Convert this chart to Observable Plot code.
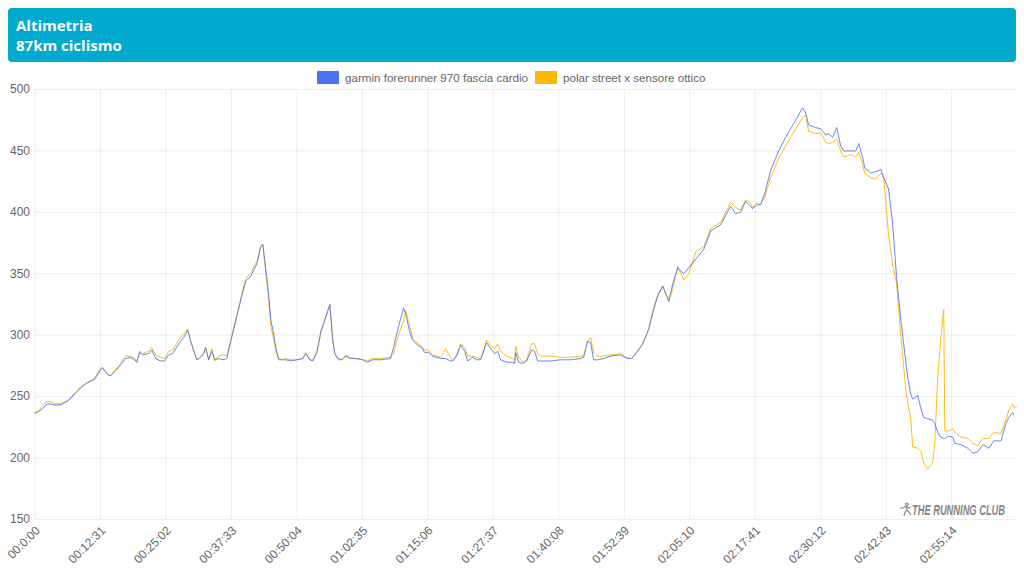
<!DOCTYPE html>
<html lang="it">
<head>
<meta charset="utf-8">
<script src="https://cdn.jsdelivr.net/npm/d3@7"></script>
<script src="https://cdn.jsdelivr.net/npm/@observablehq/plot@0.6"></script>
<style>
html,body{margin:0;padding:0;background:#fff;width:1024px;height:576px;overflow:hidden}
#page{position:relative;width:1024px;height:576px}
#head{position:absolute;left:8px;top:8px;width:1000px;height:54px;padding-left:8px;background:#00a9ce;border-radius:4px;color:#fff;font:700 15px/20px "Open Sans",sans-serif;display:flex;flex-direction:column;justify-content:center}
.key{position:absolute;top:71px;height:13px;display:flex;align-items:center;font:11.6px "Liberation Sans",sans-serif;color:#666;white-space:nowrap}
.key i{display:inline-block;width:22px;height:13px;margin-right:6px}
#chart{position:absolute;left:0;top:75px}
#mark{position:absolute;left:899px;top:497px;width:112px;height:24px}
</style>
</head>
<body>
<div id="page">
  <div id="head"><div>Altimetria</div><div>87km ciclismo</div></div>
  <div id="chart"></div>
  <div class="key" style="left:317px"><i style="background:#4d70f5"></i><span id="k0"></span></div>
  <div class="key" style="left:535px"><i style="background:#ffb700"></i><span id="k1"></span></div>
  <svg id="mark" viewBox="0 0 112 24"><path d="M8 6a1.2 1.2 0 1 0 .1 0M7 9 4 11l-3 0M7 9l1 4-2 2-1 4M8 13l2 2 2 3M7 9l3 2 2-1" fill="none" stroke="#8a8a8a" stroke-width="1.2"/><text id="markText" transform="translate(13 17.5) scale(1 1.45)" textLength="93" lengthAdjust="spacingAndGlyphs" font-family="Liberation Sans" font-weight="700" font-style="italic" font-size="10" fill="#858585">THE RUNNING CLUB</text></svg>
</div>
<script>
const seriesNames = ["garmin forerunner 970 fascia cardio", "polar street x sensore ottico"];
const seriesColors = ["#4d70f5", "#ffb700"];
const tickLabels = ["00:0:00","00:12:31","00:25:02","00:37:33","00:50:04","01:02:35","01:15:06","01:27:37","01:40:08","01:52:39","02:05:10","02:17:41","02:30:12","02:42:43","02:55:14"];
const tickSeconds = [0,751,1502,2253,3004,3755,4506,5257,6008,6759,7510,8261,9012,9763,10514];
const yTicks = [150,200,250,300,350,400,450,500];

const seconds = [
0,40,86,132,178,247,316,385,454,522,591,683,752,775,833,867,924,982,1039,1097,
1143,1166,1200,1234,1303,1338,1384,1441,1487,1533,1579,1648,1705,1751,1786,1832,1855,1900,1935,1958,
1992,2027,2061,2107,2153,2199,2245,2314,2383,2417,2475,2544,2590,2613,2636,2671,2705,2728,2762,2796,
2842,2877,2934,3003,3072,3106,3152,3187,3233,3279,3336,3382,3416,3439,3474,3520,3566,3612,3681,3761,
3803,3872,3964,4078,4112,4169,4227,4250,4296,4330,4388,4434,4468,4514,4560,4652,4709,4767,4790,4836,
4882,4928,4962,5019,5065,5111,5180,5226,5272,5306,5340,5409,5478,5501,5513,5547,5593,5639,5696,5730,
5764,5798,5913,6028,6143,6258,6292,6338,6373,6407,6453,6522,6602,6717,6786,6843,6901,6970,7039,7085,
7142,7200,7269,7315,7372,7441,7499,7579,7671,7751,7866,7977,8034,8092,8149,8207,8230,8276,8322,8368,
8437,8529,8609,8724,8804,8839,8873,8954,9011,9069,9103,9149,9195,9241,9276,9356,9413,9448,9494,9517,
9586,9643,9701,9735,9790,9836,9882,9928,9986,10009,10043,10066,10124,10158,10193,10239,10296,10319,10354,10388,
10423,10434,10480,10526,10549,10618,10698,10756,10813,10871,10940,10997,11078,11135,11169,11215,11227,11257
];
const garmin = [
237,238,240,244,244,243,244,247,252,257,261,264,272,273,268,267,271,276,281,282,
280,278,286,284,285,288,281,279,279,284,285,293,298,304,295,285,280,282,285,290,
280,287,280,281,280,281,295,315,335,344,348,358,372,374,360,340,312,305,290,280,
280,280,279,280,281,285,280,279,286,303,315,325,295,285,281,280,283,281,281,280,
278,280,280,281,290,307,322,318,303,296,292,290,286,286,283,281,281,279,279,283,
292,287,279,282,280,280,294,289,285,287,280,278,278,277,286,278,277,279,288,287,
279,279,279,280,280,281,282,295,294,280,280,281,283,284,281,281,286,293,305,318,
332,340,328,342,355,350,355,362,370,385,390,405,399,400,409,405,403,407,406,415,
434,450,461,475,485,481,471,469,468,463,464,461,469,454,450,450,450,456,444,436,
432,433,435,428,419,391,347,314,279,266,252,248,251,241,233,232,231,228,221,217,
216,216,218,217,212,211,208,204,205,211,208,214,214,228,233,237,235,null
];
const polar = [
236,238,243,246,246,244,245,247,253,258,261,265,273,274,268,267,272,277,283,283,
281,278,287,285,287,290,284,282,281,287,288,296,301,305,295,285,280,282,286,290,
280,289,279,283,284,283,296,316,337,346,351,360,373,374,358,336,308,300,287,281,
280,281,280,280,281,286,280,280,286,303,315,325,295,285,280,280,284,282,281,280,
279,281,281,282,285,300,312,320,308,298,293,291,288,288,284,282,289,282,279,284,
293,290,283,283,282,281,296,292,289,293,287,283,281,279,291,282,278,280,293,293,
285,283,283,282,282,283,283,295,298,286,283,283,284,285,282,281,286,293,305,320,
333,340,327,338,356,345,350,368,372,387,392,408,404,402,410,408,404,405,407,412,
428,444,454,468,477,479,466,464,465,457,456,457,460,450,445,447,445,449,438,432,
428,427,432,428,381,358,342,301,257,245,233,209,208,206,196,191,196,212,266,296,
321,222,222,224,221,217,216,212,210,216,216,221,220,231,239,244,241,242
];

const rows = seconds.map((t, i) => ({t, garmin: garmin[i], polar: polar[i]}));
document.getElementById("k0").textContent = seriesNames[0];
document.getElementById("k1").textContent = seriesNames[1];

const grid = {stroke: "#000", strokeOpacity: 0.07, strokeWidth: 1};
const plot = Plot.plot({
  width: 1024, height: 501,
  marginTop: 14, marginBottom: 57, marginLeft: 34.5, marginRight: 8,
  style: {fontFamily: '"Liberation Sans",sans-serif', fontSize: "12px", color: "#666", background: "transparent"},
  x: {domain: [0, 11257], label: null},
  y: {domain: [150, 500], label: null},
  marks: [
    Plot.gridY(yTicks, grid),
    Plot.gridX(tickSeconds, grid),
    Plot.axisY({ticks: yTicks, tickSize: 0, tickPadding: 5, label: null, fill: "#666", fontSize: 12}),
    Plot.axisX({ticks: tickSeconds, tickFormat: (d, i) => tickLabels[i], tickRotate: -45, tickSize: 0, tickPadding: 9, dx: 3, label: null, fill: "#666", fontSize: 12}),
    Plot.line(rows, {x: "t", y: "polar", stroke: seriesColors[1], strokeWidth: 1, strokeOpacity: 0.9, curve: "linear"}),
    Plot.line(rows, {x: "t", y: "garmin", stroke: seriesColors[0], strokeWidth: 1, strokeOpacity: 0.85, curve: "linear"})
  ]
});
document.getElementById("chart").appendChild(plot);
</script>
</body>
</html>
